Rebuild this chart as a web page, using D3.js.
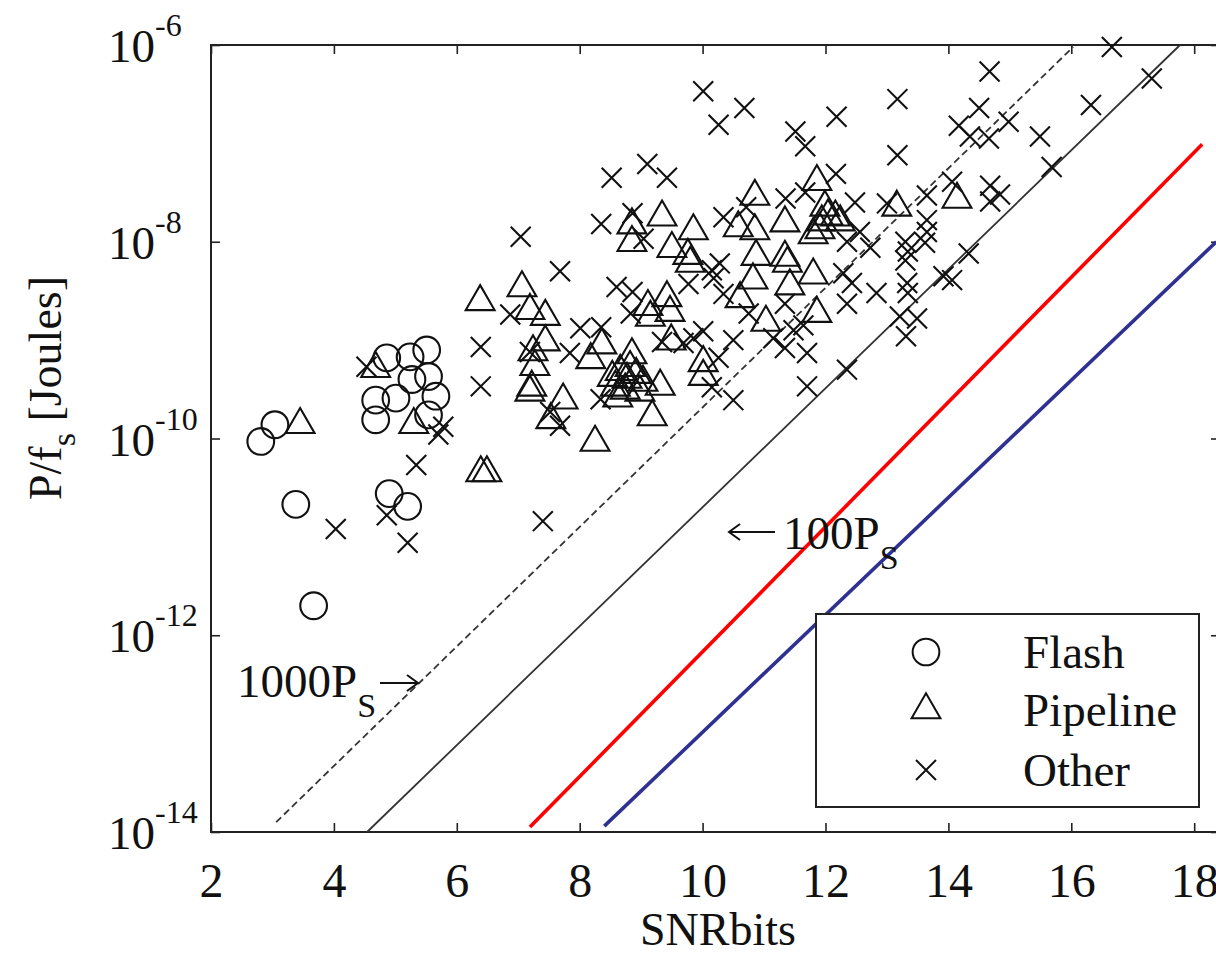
<!DOCTYPE html>
<html>
<head>
<meta charset="utf-8">
<script src="https://cdn.jsdelivr.net/npm/d3@7"></script>
<style>
  body { margin: 0; background: #fff; }
  text { font-family: "Liberation Serif", "Times New Roman", Times, serif; fill: #111; }
</style>
</head>
<body>
<div id="chart"></div>
<script>
// values (energies kept as log10 of P/fs in joules)
var xTicks = [2, 4, 6, 8, 10, 12, 14, 16, 18];
var yTickExps = [-6, -8, -10, -12, -14];
var legendNames = ["Flash", "Pipeline", "Other"];

var flashSnr = [2.81, 3.04, 3.38, 3.67, 4.68, 4.68, 4.86, 5.01, 5.24, 5.27, 5.51, 5.54, 5.66, 5.54, 4.90, 5.20];
var flashLogE = [-10.03, -9.86, -10.67, -11.70, -9.81, -9.61, -9.18, -9.59, -9.17, -9.40, -9.10, -9.37, -9.57, -9.76, -10.56, -10.69];

var pipeSnr = [3.45, 4.68, 5.30, 6.39, 6.49, 6.38, 7.06, 7.19, 7.44, 7.44,
  7.24, 7.27, 7.22, 7.19, 7.73, 7.53, 8.25, 8.18, 8.36, 8.85,
  8.58, 8.77, 9.03, 9.31, 9.18, 9.15, 9.11, 9.42, 9.47, 9.49,
  10.01, 10.01, 10.61, 11.03, 11.42, 11.80, 11.86, 11.38, 10.82, 9.80,
  9.34, 8.85, 8.85, 9.85, 9.50, 9.76, 10.85, 10.58, 10.85, 11.34,
  10.87, 11.34, 11.86, 11.99, 11.94, 11.80, 11.91, 12.04, 13.16, 14.14,
  12.16, 12.24, 8.53, 8.66, 8.74, 8.92, 8.98, 8.62, 8.82];
var pipeLogE = [-9.86, -9.29, -9.86, -10.35, -10.35, -8.61, -8.47, -8.70, -8.76, -9.02,
  -9.12, -9.27, -9.48, -9.53, -9.61, -9.81, -10.04, -9.20, -9.05, -9.15,
  -9.48, -9.40, -9.43, -9.47, -9.78, -8.77, -8.66, -8.57, -8.72, -9.01,
  -9.23, -9.37, -8.58, -8.82, -8.45, -8.34, -8.73, -8.22, -8.39, -8.22,
  -7.75, -7.83, -8.01, -7.89, -8.07, -8.14, -7.54, -7.86, -7.89, -7.81,
  -8.15, -8.16, -7.39, -7.65, -7.80, -7.93, -7.88, -7.74, -7.65, -7.57,
  -7.75, -7.80, -9.38, -9.32, -9.51, -9.35, -9.53, -9.59, -9.28];

var otherSnr = [4.03, 4.53, 4.86, 5.20, 5.34, 5.78, 5.70, 6.39, 6.39, 6.87,
  7.40, 7.04, 7.68, 7.19, 8.52, 9.10, 9.42, 8.35, 8.86, 9.04,
  10.01, 10.68, 10.26, 11.51, 11.67, 12.18, 12.17, 11.35, 11.67, 10.34,
  10.71, 10.28, 10.15, 12.29, 12.48, 16.66, 14.67, 17.31, 13.17, 14.50,
  16.32, 14.98, 14.17, 14.35, 14.66, 15.49, 13.17, 15.68, 13.00, 13.65,
  14.06, 14.68, 14.84, 14.68, 13.65, 13.65, 13.62, 13.30, 13.34, 13.30,
  12.73, 12.56, 12.35, 14.33, 13.92, 14.06, 13.33, 13.34, 12.43, 12.35,
  12.83, 13.21, 13.49, 13.31, 12.35, 11.70, 11.70, 8.01, 8.35, 7.84,
  8.60, 8.86, 8.83, 9.77, 10.18, 10.34, 10.01, 10.50, 10.26, 10.15,
  10.50, 9.69, 9.34, 8.34, 7.68, 7.52, 10.75, 11.34, 11.64, 11.34,
  11.15, 11.48, 9.85];
var otherLogE = [-10.92, -9.27, -10.78, -11.06, -10.27, -9.88, -9.96, -9.07, -9.47, -8.74,
  -10.84, -7.95, -8.30, -9.12, -7.35, -7.21, -7.35, -7.82, -7.71, -7.97,
  -6.47, -6.64, -6.81, -6.88, -7.03, -6.73, -7.31, -7.56, -7.50, -7.75,
  -7.65, -8.22, -8.29, -8.32, -7.60, -6.02, -6.27, -6.34, -6.55, -6.64,
  -6.61, -6.78, -6.82, -6.93, -6.95, -6.93, -7.12, -7.24, -7.61, -7.53,
  -7.39, -7.43, -7.52, -7.59, -7.78, -7.90, -8.01, -8.00, -8.10, -8.19,
  -8.06, -7.90, -8.00, -8.12, -8.35, -8.39, -8.42, -8.52, -8.42, -8.63,
  -8.52, -8.76, -8.78, -8.96, -9.30, -9.13, -9.47, -8.88, -8.87, -9.13,
  -8.46, -8.51, -8.73, -8.43, -8.37, -8.53, -8.91, -9.00, -9.18, -9.48,
  -9.61, -9.03, -9.02, -9.60, -9.87, -9.73, -8.73, -8.63, -8.85, -9.08,
  -8.98, -8.90, -8.98];

// reference lines: [snr, log10 E] end points
var line1000Ps = [[3.06, -13.90], [16.03, -6.02]];
var line100Ps = [[4.54, -14.00], [17.77, -6.00]];
var redLine = [[7.19, -13.95], [18.13, -7.01]];
var blueLine = [[8.40, -13.94], [18.36, -8.00]];

var svgWidth = 1216;
var svgHeight = 957;
var plot = { left: 211, top: 45, right: 1220, bottom: 832 };

var svg = d3.select("#chart")
  .append("svg")
  .attr("width", svgWidth)
  .attr("height", svgHeight)
  .style("display", "block");

svg.append("rect").attr("width", svgWidth).attr("height", svgHeight).attr("fill", "#fff");

var x = d3.scaleLinear().domain([2, 18.42]).range([plot.left, plot.right]);
var y = d3.scaleLog().domain([1e-14, 1e-6]).range([plot.bottom, plot.top]);
var yTicks = yTickExps.map(e => Math.pow(10, e));

function toPoints(snr, logE) {
  return snr.map((s, i) => ({ snr: s, e: Math.pow(10, logE[i]) }));
}

// axes, ticks pointing inward
function styleAxis(g) {
  g.select(".domain").remove();
  g.selectAll(".tick line").attr("stroke", "#222").attr("stroke-width", 1.6);
}

var bottomAxis = svg.append("g")
  .attr("transform", `translate(0, ${plot.bottom})`)
  .call(d3.axisBottom(x).tickValues(xTicks).tickSizeInner(-9).tickSizeOuter(0).tickPadding(31).tickFormat(d3.format("d")));
styleAxis(bottomAxis);
bottomAxis.selectAll("text")
  .attr("font-size", 48)
  .attr("fill", "#111");

svg.append("g")
  .attr("transform", `translate(0, ${plot.top})`)
  .call(d3.axisTop(x).tickValues(xTicks).tickSizeInner(-9).tickSizeOuter(0).tickFormat(""))
  .call(styleAxis);

svg.append("g")
  .attr("transform", `translate(${plot.left}, 0)`)
  .call(d3.axisLeft(y).tickValues(yTicks).tickSizeInner(-9).tickSizeOuter(0).tickFormat(""))
  .call(styleAxis);

svg.append("g")
  .attr("transform", `translate(${plot.right}, 0)`)
  .call(d3.axisRight(y).tickValues(yTicks).tickSizeInner(-9).tickSizeOuter(0).tickFormat(""))
  .call(styleAxis);

// y tick labels 10^k
var yLabels = svg.append("g").selectAll("text")
  .data(yTickExps)
  .enter()
  .append("text")
  .attr("x", 108)
  .attr("y", d => y(Math.pow(10, d)) + 17)
  .attr("font-size", 47);
yLabels.append("tspan").text("10");
yLabels.append("tspan")
  .attr("dy", -26)
  .attr("font-size", 32)
  .text(d => "-" + Math.abs(d));

// frame
svg.append("rect")
  .attr("x", plot.left)
  .attr("y", plot.top)
  .attr("width", plot.right - plot.left)
  .attr("height", plot.bottom - plot.top)
  .attr("fill", "none")
  .attr("stroke", "#222")
  .attr("stroke-width", 2);

// reference lines
var lineGen = d3.line().x(d => x(d[0])).y(d => y(Math.pow(10, d[1])));
svg.append("path").attr("d", lineGen(line1000Ps))
  .attr("fill", "none").attr("stroke", "#333").attr("stroke-width", 1.8).attr("stroke-dasharray", "7,4");
svg.append("path").attr("d", lineGen(line100Ps))
  .attr("fill", "none").attr("stroke", "#333").attr("stroke-width", 1.8);
svg.append("path").attr("d", lineGen(redLine))
  .attr("fill", "none").attr("stroke", "#ff0000").attr("stroke-width", 3.6);
svg.append("path").attr("d", lineGen(blueLine))
  .attr("fill", "none").attr("stroke", "#2e3192").attr("stroke-width", 3.6);

// markers
var circleSym = d3.symbol().type(d3.symbolCircle).size(560);
var triSym = d3.symbol().type(d3.symbolTriangle).size(360);
var crossSym = d3.symbol().type(d3.symbolX).size(262);

function drawMarkers(data, sym) {
  svg.append("g").selectAll("path")
    .data(data)
    .enter()
    .append("path")
    .attr("d", sym)
    .attr("transform", d => `translate(${x(d.snr)}, ${y(d.e)})`)
    .attr("fill", "none")
    .attr("stroke", "#111")
    .attr("stroke-width", 2.1);
}
drawMarkers(toPoints(otherSnr, otherLogE), crossSym);
drawMarkers(toPoints(pipeSnr, pipeLogE), triSym);
drawMarkers(toPoints(flashSnr, flashLogE), circleSym);

// annotations
function arrow(x1, x2, yy) {
  var dir = x2 > x1 ? 1 : -1;
  svg.append("path")
    .attr("d", `M${x1},${yy}L${x2},${yy}M${x2 - dir * 11},${yy - 8}L${x2},${yy}L${x2 - dir * 11},${yy + 8}`)
    .attr("fill", "none").attr("stroke", "#111").attr("stroke-width", 2);
}
var ann1 = svg.append("text").attr("x", 237).attr("y", 697).attr("font-size", 47);
ann1.append("tspan").text("1000P");
ann1.append("tspan").attr("dy", 20).attr("font-size", 34).text("S");
arrow(380, 418, 683);

arrow(775, 729, 532);
var ann2 = svg.append("text").attr("x", 783).attr("y", 549).attr("font-size", 47);
ann2.append("tspan").text("100P");
ann2.append("tspan").attr("dy", 20).attr("font-size", 34).text("S");

// axis titles
svg.append("text")
  .attr("x", 718)
  .attr("y", 945)
  .attr("text-anchor", "middle")
  .attr("font-size", 46)
  .text("SNRbits");

var yTitle = svg.append("text")
  .attr("transform", "translate(61, 388) rotate(-90)")
  .attr("text-anchor", "middle")
  .attr("font-size", 46);
yTitle.append("tspan").text("P/f");
yTitle.append("tspan").attr("dy", 14).attr("font-size", 34).text("s");
yTitle.append("tspan").attr("dy", -14).text(" [Joules]");

// legend
var legend = svg.append("g");
legend.append("rect")
  .attr("x", 816).attr("y", 614).attr("width", 383).attr("height", 193)
  .attr("fill", "#fff").attr("stroke", "#222").attr("stroke-width", 2);
var legendSyms = [circleSym, triSym, crossSym];
var legendRowY = [652, 710, 770];
legendNames.forEach(function(name, i) {
  legend.append("path")
    .attr("d", legendSyms[i])
    .attr("transform", `translate(926, ${legendRowY[i]})`)
    .attr("fill", "none").attr("stroke", "#111").attr("stroke-width", 2);
  legend.append("text")
    .attr("x", 1023)
    .attr("y", legendRowY[i] + 16)
    .attr("font-size", 47)
    .text(name);
});
</script>
</body>
</html>
